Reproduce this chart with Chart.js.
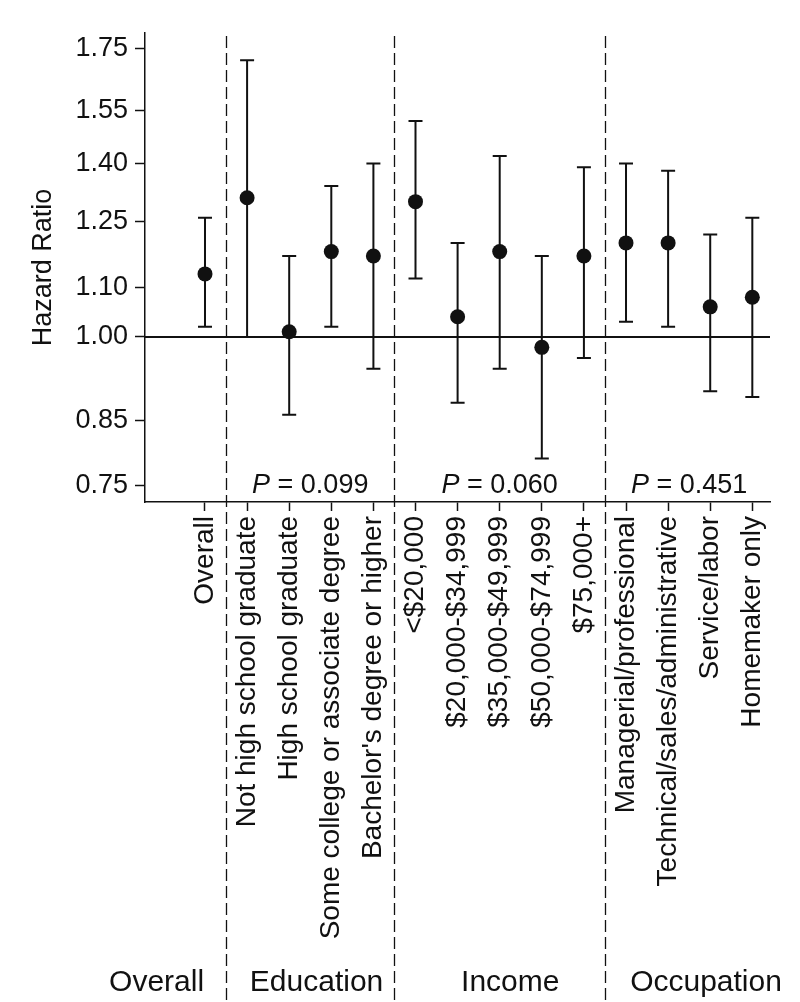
<!DOCTYPE html>
<html>
<head>
<meta charset="utf-8">
<script src="https://cdn.jsdelivr.net/npm/chart.js@4.4.1/dist/chart.umd.min.js"></script>
<style>
  html, body { margin: 0; padding: 0; background: #fff; }
</style>
</head>
<body>
<canvas id="hrChart" width="800" height="1002"></canvas>
<script>
// 类别与数值
const categories = [
  'Overall',
  'Not high school graduate',
  'High school graduate',
  'Some college or associate degree',
  "Bachelor's degree or higher",
  '<$20,000',
  '$20,000-$34,999',
  '$35,000-$49,999',
  '$50,000-$74,999',
  '$75,000+',
  'Managerial/professional',
  'Technical/sales/administrative',
  'Service/labor',
  'Homemaker only'
]
const hazard  = [1.13, 1.31, 1.01, 1.18, 1.17, 1.30, 1.04, 1.18, 0.98, 1.17, 1.20, 1.20, 1.06, 1.08]
const ciLower = [1.02, 1.00, 0.86, 1.02, 0.94, 1.12, 0.88, 0.94, 0.79, 0.96, 1.03, 1.02, 0.90, 0.89]
const ciUpper = [1.26, 1.71, 1.17, 1.34, 1.40, 1.52, 1.20, 1.42, 1.17, 1.39, 1.40, 1.38, 1.22, 1.26]
const yTicks  = [0.75, 0.85, 1.00, 1.10, 1.25, 1.40, 1.55, 1.75]

// 分组
const groupNames = ['Overall', 'Education', 'Income', 'Occupation']
const groupStart = [0, 1, 5, 10]
const groupEnd   = [0, 4, 9, 13]
const pValues    = [null, '0.099', '0.060', '0.451']

const ink = '#111111'
const family = '"Liberation Sans", Arial, Helvetica, sans-serif'
const labelShift = [-1.15, 0.15, 0.25, 0.4] // 组标签相对组中心的偏移（类别单位）

// 坐标轴范围
const X_MIN = -1.425, X_MAX = 13.42
const Y_MIN = 0.726, Y_MAX = 1.803

/**
 * 误差线、参考线、分隔虚线和文字
 */
const forestPlugin = {
  id: 'forest',
  beforeDatasetsDraw(chart) {
    const { ctx, chartArea, scales: { x, y } } = chart
    ctx.save()
    ctx.strokeStyle = ink

    // 参考线 HR = 1
    const y1 = y.getPixelForValue(1)
    ctx.lineWidth = 2
    ctx.beginPath()
    ctx.moveTo(chartArea.left, y1)
    ctx.lineTo(chartArea.right, y1)
    ctx.stroke()

    // 分组虚线
    ctx.lineWidth = 1.3
    ctx.setLineDash([12, 5])
    for (let g = 1; g < groupStart.length; g++) {
      const px = Math.round(x.getPixelForValue(groupStart[g] - 0.5)) + 0.5
      ctx.beginPath()
      ctx.moveTo(px, chartArea.top + 3)
      ctx.lineTo(px, chart.height)
      ctx.stroke()
    }
    ctx.setLineDash([])

    // 置信区间
    ctx.lineWidth = 2
    categories.forEach((c, i) => {
      const px = x.getPixelForValue(i)
      const top = y.getPixelForValue(ciUpper[i])
      const bot = y.getPixelForValue(ciLower[i])
      ctx.beginPath()
      ctx.moveTo(px, top)
      ctx.lineTo(px, bot)
      ctx.moveTo(px - 7, top)
      ctx.lineTo(px + 7, top)
      ctx.moveTo(px - 7, bot)
      ctx.lineTo(px + 7, bot)
      ctx.stroke()
    })
    ctx.restore()
  },
  afterDraw(chart) {
    const { ctx, scales: { x } } = chart
    ctx.save()
    ctx.fillStyle = ink
    ctx.textBaseline = 'alphabetic'

    // P 值
    groupNames.forEach((name, g) => {
      if (!pValues[g]) return
      const cx = x.getPixelForValue((groupStart[g] + groupEnd[g]) / 2)
      const italic = 'italic 27px ' + family
      const normal = '27px ' + family
      const rest = ' = ' + pValues[g]
      ctx.font = italic
      const wP = ctx.measureText('P').width
      ctx.font = normal
      const wR = ctx.measureText(rest).width
      const x0 = cx - (wP + wR) / 2
      ctx.textAlign = 'left'
      ctx.font = italic
      ctx.fillText('P', x0, 493)
      ctx.font = normal
      ctx.fillText(rest, x0 + wP, 493)
    })

    // 组标签
    ctx.font = '30px ' + family
    ctx.textAlign = 'center'
    groupNames.forEach((name, g) => {
      const cx = x.getPixelForValue((groupStart[g] + groupEnd[g]) / 2 + labelShift[g])
      ctx.fillText(name, cx, 991)
    })
    ctx.restore()
  }
}

Chart.defaults.font.family = family
Chart.defaults.font.size = 27
Chart.defaults.color = ink

const canvas = document.getElementById('hrChart')
new Chart(canvas.getContext('2d'), {
  type: 'scatter',
  data: {
    datasets: [{
      label: 'Hazard Ratio',
      data: hazard.map((v, i) => ({ x: i, y: v })),
      pointRadius: 7.5,
      pointHoverRadius: 7.5,
      pointBackgroundColor: ink,
      pointBorderWidth: 0
    }]
  },
  options: {
    responsive: false,
    animation: false,
    events: [],
    layout: { padding: { top: 33, right: 30, left: 0, bottom: 0 } },
    plugins: {
      legend: { display: false },
      tooltip: { enabled: false }
    },
    scales: {
      x: {
        type: 'linear',
        min: X_MIN,
        max: X_MAX,
        afterBuildTicks: scale => {
          scale.ticks = categories.map((c, i) => ({ value: i }))
          scale.min = X_MIN
          scale.max = X_MAX
        },
        afterFit: scale => { scale.height = 500 },
        ticks: {
          autoSkip: false,
          minRotation: 90,
          maxRotation: 90,
          padding: 5,
          color: ink,
          font: { size: 28 },
          callback: v => categories[v]
        },
        grid: { drawOnChartArea: false, tickLength: 9, color: ink, tickWidth: 1.5 },
        border: { color: ink, width: 1.5 }
      },
      y: {
        type: 'logarithmic',
        min: Y_MIN,
        max: Y_MAX,
        afterBuildTicks: scale => {
          scale.ticks = yTicks.map(v => ({ value: v }))
          // 强制使用给定范围（对数轴会取整下限）
          scale.min = Y_MIN
          scale.max = Y_MAX
        },
        afterFit: scale => { scale.width = 145 },
        ticks: {
          padding: 7,
          color: ink,
          font: { size: 27 },
          callback: v => Number(v).toFixed(2)
        },
        grid: { drawOnChartArea: false, tickLength: 10, color: ink, tickWidth: 1.5 },
        border: { color: ink, width: 1.5 },
        title: {
          display: true,
          text: 'Hazard Ratio',
          color: ink,
          font: { size: 27 },
          padding: { top: 27, bottom: 0 }
        }
      }
    }
  },
  plugins: [forestPlugin]
})
</script>
</body>
</html>
